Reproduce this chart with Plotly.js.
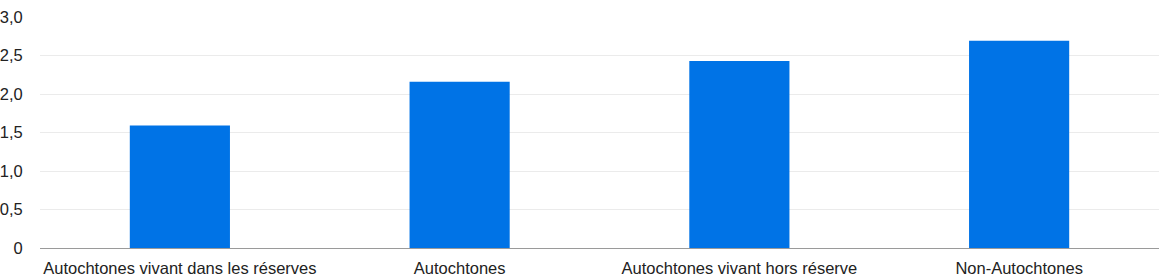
<!DOCTYPE html>
<html>
<head>
<meta charset="utf-8">
<script src="https://cdn.plot.ly/plotly-3.0.1.min.js"></script>
<style>
  html, body { margin: 0; padding: 0; background: #fff; }
  #chart { width: 1172px; height: 280px; }
</style>
</head>
<body>
<div id="chart"></div>
<script>
const categories = [
  "Autochtones vivant dans les réserves",
  "Autochtones",
  "Autochtones vivant hors réserve",
  "Non-Autochtones"
];
const values = [1.59, 2.16, 2.43, 2.69];
const yTickVals = [0, 0.5, 1, 1.5, 2, 2.5, 3];
const yTickText = ["0", "0,5", "1,0", "1,5", "2,0", "2,5", "3,0"];

const trace = {
  type: "bar",
  x: categories,
  y: values,
  marker: { color: "#0073e6", line: { width: 0 } },
  hoverinfo: "x+y"
};

const layout = {
  width: 1172,
  height: 280,
  margin: { l: 40, r: 13, t: 17, b: 32 },
  paper_bgcolor: "#ffffff",
  plot_bgcolor: "#ffffff",
  bargap: 0.642,
  showlegend: false,
  separators: ", ",
  font: { family: "Liberation Sans, Arial, sans-serif", size: 16.5, color: "#222222" },
  xaxis: {
    type: "category",
    showgrid: false,
    showline: true,
    linecolor: "#9a9a9a",
    linewidth: 1,
    ticks: "outside",
    ticklen: 5,
    tickcolor: "rgba(0,0,0,0)",
    tickfont: { size: 16.5, color: "#222222" },
    zeroline: false
  },
  yaxis: {
    range: [0, 3],
    tickvals: yTickVals,
    ticktext: yTickText,
    showgrid: true,
    gridcolor: "#ebebeb",
    gridwidth: 1,
    zeroline: false,
    showline: false,
    ticks: "outside",
    ticklen: 13,
    tickcolor: "rgba(0,0,0,0)",
    tickfont: { size: 16.5, color: "#222222" }
  }
};

Plotly.newPlot("chart", [trace], layout, { displayModeBar: false, staticPlot: true });
</script>
</body>
</html>
